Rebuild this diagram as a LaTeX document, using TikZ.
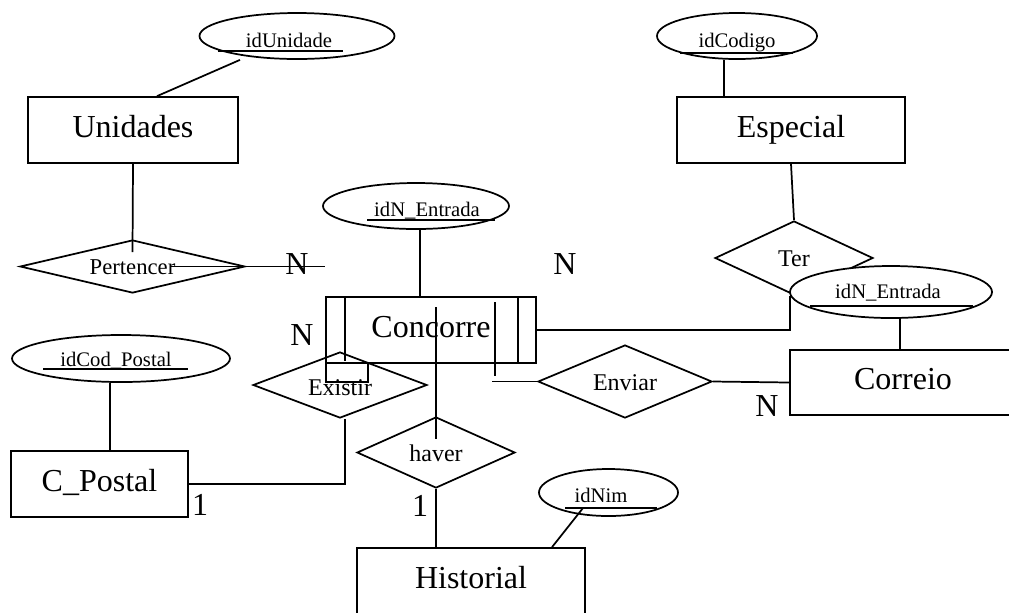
\documentclass[tikz,border=0pt]{standalone}
\usepackage{fontspec}
\setmainfont{Liberation Serif}
\usetikzlibrary{shapes.geometric}

\begin{document}
\begin{tikzpicture}[x = 0.75pt, y = -0.75pt, line width = 1.3pt,
    entidade/.style = {draw, rectangle, inner sep = 0pt, text height = 16.2pt, text depth = 5pt, font = \fontsize{24}{28}\selectfont},
    atributo/.style = {draw, ellipse, fill = white, inner sep = 0pt, minimum height = 46*0.75pt},
    relacao/.style = {draw, diamond, inner sep = 0pt, text height = 12.8pt, text depth = 0pt, font = \fontsize{18}{21}\selectfont},
    atrtexto/.style = {anchor = base, inner sep = 0pt, font = \fontsize{15.5}{18}\selectfont},
    cardinal/.style = {inner sep = 0pt, font = \fontsize{24}{28}\selectfont}]
  \def\pxl{0.75pt}
  \useasboundingbox (0, 0) rectangle (1009, 612);
  \clip (0, 0) rectangle (1009, 612);
  % entidades
  \node[entidade, minimum width = 210*\pxl, minimum height = 66*\pxl] (Unidades) at (133, 130) {Unidades};
  \node[entidade, minimum width = 228*\pxl, minimum height = 66*\pxl] (Especial) at (791, 130) {Especial};
  \node[entidade, minimum width = 210*\pxl, minimum height = 66*\pxl] (Concorre) at (431, 330) {Concorre};
  \node[entidade, minimum width = 226*\pxl, minimum height = 65*\pxl] (Correio) at (903, 382.5) {Correio};
  \node[entidade, minimum width = 177*\pxl, minimum height = 66*\pxl] (CPostal) at (99.5, 484) {C\_Postal};
  \node[entidade, minimum width = 228*\pxl, minimum height = 66*\pxl] (Historial) at (471, 581) {Historial};
  % relacoes
  \node[relacao, shape aspect = 4.2, minimum width = 225*\pxl, minimum height = 53*\pxl, text height = 11.5pt, font = \fontsize{17}{20}\selectfont] (Pertencer) at (132.5, 266.5) {Pertencer};
  \node[relacao, shape aspect = 2.1, minimum width = 158*\pxl, minimum height = 74*\pxl] (Ter) at (794, 258) {Ter};
  \node[relacao, shape aspect = 2.6, minimum width = 174*\pxl, minimum height = 66*\pxl, text height = 16pt] (Existir) at (340, 385) {Existir};
  \node[relacao, shape aspect = 2.2, minimum width = 158*\pxl, minimum height = 71*\pxl] (haver) at (436, 452.5) {haver};
  \node[relacao, shape aspect = 2.4, minimum width = 174*\pxl, minimum height = 73*\pxl] (Enviar) at (625, 381.5) {Enviar};
  \node[draw, inner sep = 0pt, minimum width = 42*\pxl, minimum height = 19*\pxl] (caixa) at (347, 372.5) {};
  % atributos
  \node[atributo, minimum width = 195*\pxl] (aUnidade) at (297, 36) {};
  \node[atributo, minimum width = 160*\pxl] (aCodigo) at (737, 36) {};
  \node[atributo, minimum width = 186*\pxl] (aEntrada) at (416, 206) {};
  \node[atributo, minimum width = 202*\pxl, minimum height = 52*\pxl] (aEntradaCorreio) at (891, 292) {};
  \node[atributo, minimum width = 218*\pxl, minimum height = 47*\pxl] (aCodPostal) at (121, 358.5) {};
  \node[atributo, minimum width = 139*\pxl, minimum height = 47*\pxl] (aNim) at (608.5, 492.5) {};
  \node[atrtexto] (tUnidade) at (289, 47) {idUnidade};
  \node[atrtexto] (tCodigo) at (737, 47) {idCodigo};
  \node[atrtexto] (tEntrada) at (427, 216.5) {idN\_Entrada};
  \node[atrtexto] (tEntradaCorreio) at (888, 298) {idN\_Entrada};
  \node[atrtexto] (tCodPostal) at (116, 366) {idCod\_Postal};
  \node[atrtexto] (tNim) at (601, 502.5) {idNim};
  \draw (218, 51) -- (343, 51);
  \draw (680, 53) -- (793, 53);
  \draw (367, 220) -- (495, 220);
  \draw (810, 306) -- (973, 306);
  \draw (43, 369) -- (188, 369);
  \draw (565, 508) -- (657, 508);
  % cardinalidades
  \node[cardinal] (cPertencer) at (297, 264) {N};
  \node[cardinal] (cTer) at (565, 264) {N};
  \node[cardinal] (cExistir) at (302, 335) {N};
  \node[cardinal] (cCorreio) at (767, 406) {N};
  \node[cardinal] (cCPostal) at (200, 505) {1};
  \node[cardinal] (cHistorial) at (420, 505.5) {1};
  % ligacoes
  \coordinate (pTer) at ([xshift = -4*\pxl]Ter.south);
  \coordinate (pExistir) at ([xshift = 5*\pxl]Existir.south);
  \draw ([xshift = 20*\pxl]Concorre.north west) -- ([xshift = 20*\pxl, yshift = 3*\pxl]Concorre.south west);
  \draw ([xshift = -19*\pxl]Concorre.north east) -- ([xshift = -19*\pxl]Concorre.south east);
  \draw ([xshift = -42*\pxl, yshift = -6*\pxl]Concorre.north east) -- ([xshift = -42*\pxl, yshift = -12*\pxl]Concorre.south east);
  \draw ([xshift = -57*\pxl]aUnidade.south) -- ([xshift = 24*\pxl]Unidades.north);
  \draw (Unidades.south) -- ([yshift = -13*\pxl]Pertencer.north);
  \draw ([xshift = 37.5*\pxl]Pertencer.center) -- (Pertencer.center -| Concorre.west);
  \draw ([xshift = 4*\pxl]aEntrada.south) -- ([xshift = -11*\pxl]Concorre.north);
  \draw ([xshift = -13*\pxl]aCodigo.south) -- ([xshift = -67*\pxl]Especial.north);
  \draw (Especial.south) -- (Ter.north);
  \draw (Concorre.east) -- (Concorre.east -| pTer) -- (pTer);
  \draw ([xshift = 9*\pxl]aEntradaCorreio.south) -- ([xshift = -3*\pxl]Correio.north);
  \draw ([xshift = -45*\pxl]Enviar.west) -- (Enviar.west);
  \draw (Enviar.east) -- (Correio.west);
  \draw ([xshift = -11*\pxl]aCodPostal.south) -- ([xshift = 10.5*\pxl]CPostal.north);
  \draw (pExistir) -- (pExistir |- CPostal.east) -- (CPostal.east);
  \draw ([yshift = 109*\pxl]haver.north) -- ([yshift = -23*\pxl]haver.north);
  \draw (haver.south) -- ([xshift = -35*\pxl]Historial.north);
  \draw ([xshift = -25.5*\pxl, yshift = -15.5*\pxl]aNim.center) -- ([xshift = 81*\pxl]Historial.north);
\end{tikzpicture}
\end{document}
